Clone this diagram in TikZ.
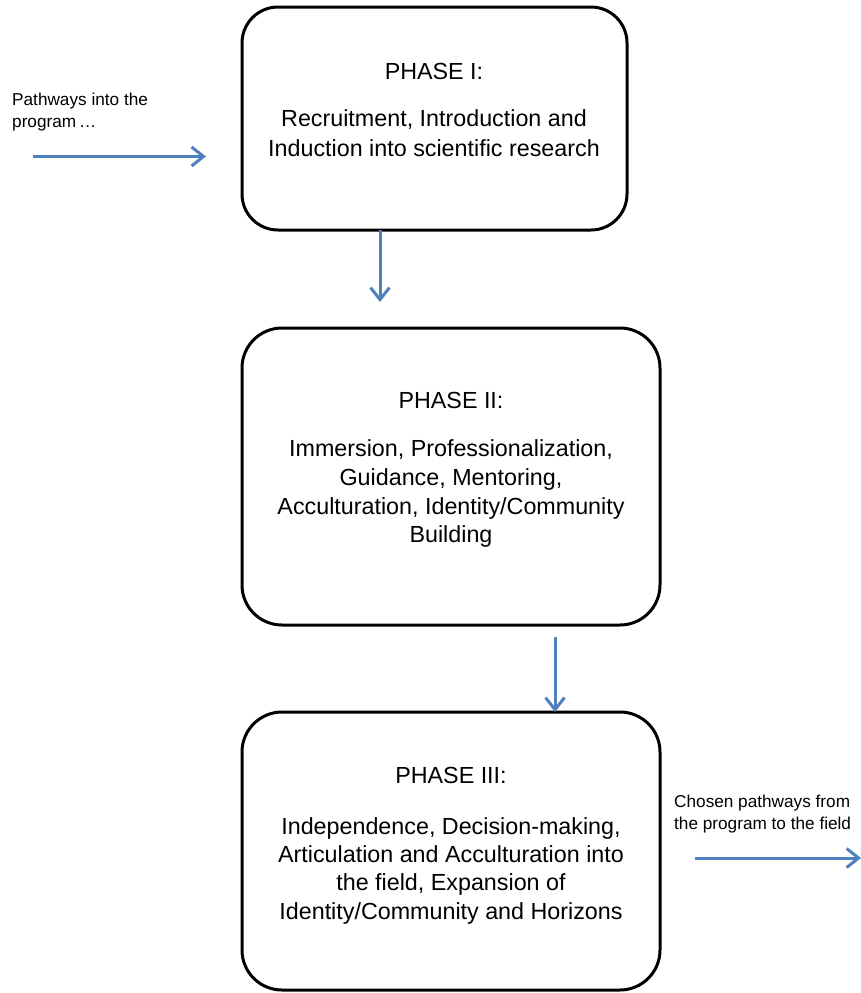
\documentclass[tikz,border=0pt]{standalone}
\usepackage{fontspec}
\setmainfont{Liberation Sans}
\usetikzlibrary{arrows.meta}
\definecolor{arrowblue}{RGB}{79,129,189}
\begin{document}
\begin{tikzpicture}[x=1pt,y=-1pt,
  phasebox/.style={draw=black, line width=3pt, rounded corners=36pt, inner sep=0pt},
  phasetext/.style={align=center, inner sep=0pt},
  sidetext/.style={align=left, font=\fontsize{17.2}{21.5}\selectfont, inner sep=0pt, anchor=north west},
  flow/.style={draw=arrowblue, line width=3pt, -{Straight Barb[length=12pt,width=19pt]}}]
\useasboundingbox (0,0) rectangle (861,993);
% boxes
\node[phasebox, minimum width=385pt, minimum height=223pt] (b1) at (434.5,118.5) {};
\node[phasebox, minimum width=418pt, minimum height=297pt, rounded corners=40pt] (b2) at (451,476.5) {};
\node[phasebox, minimum width=418pt, minimum height=278pt, rounded corners=40pt] (b3) at (451,851) {};
% texts
\node[phasetext, font=\fontsize{23.3}{30}\selectfont] (t1) at (434,110) {PHASE I:\\[17pt]Recruitment, Introduction and\\Induction into scientific research};
\node[phasetext, font=\fontsize{23.3}{28.7}\selectfont] (t2) at (451,470) {PHASE II:\\[19.3pt]Immersion, Professionalization,\\Guidance, Mentoring,\\Acculturation, Identity/Community\\Building};
\node[phasetext, font=\fontsize{23.3}{28.4}\selectfont] (t3) at (451,845.5) {PHASE III:\\[22.6pt]Independence, Decision-making,\\Articulation and Acculturation into\\the field, Expansion of\\Identity/Community and Horizons};
\node[sidetext] (s1) at (12,93) {Pathways into the\\program\,\dots};
\node[sidetext] (s2) at (674,795) {Chosen pathways from\\the program to the field};
% connector end points
\coordinate (inA) at (33,156.5);
\coordinate (inB) at (206,156.5);
\coordinate (a1s) at (380,230);
\coordinate (a1e) at (380,302);
\coordinate (a2s) at (555,637);
\coordinate (a2e) at (555,712);
\coordinate (outA) at (695,858);
\coordinate (outB) at (861,858);
% arrows
\draw[flow] (inA) -- (inB);
\draw[flow] (a1s) -- (a1e);
\draw[flow] (a2s) -- (a2e);
\draw[flow] (outA) -- (outB);
\end{tikzpicture}
\end{document}
